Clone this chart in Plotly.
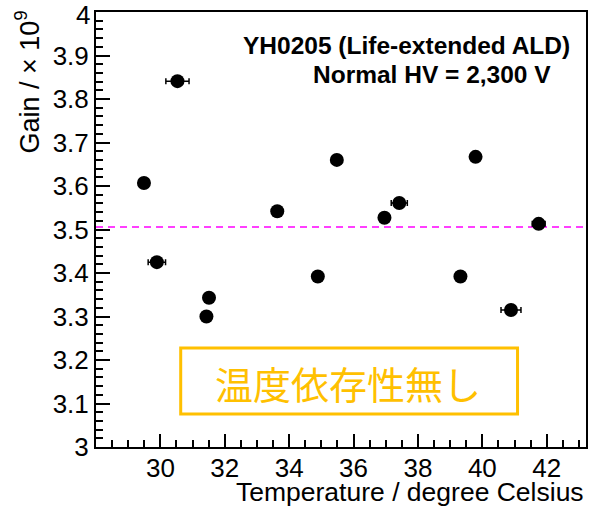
import plotly.graph_objects as go
import numpy as np

# Data
temperature = [29.49, 30.53, 29.89, 31.51, 31.43, 33.63, 34.89, 35.48,
               36.96, 37.42, 39.79, 39.32, 40.89, 41.75]
gain = [3.607, 3.841, 3.425, 3.343, 3.300, 3.542, 3.392, 3.660,
        3.527, 3.561, 3.667, 3.392, 3.315, 3.513]
temp_err = [0.10, 0.36, 0.27, 0.10, 0.10, 0.10, 0.10, 0.10,
            0.10, 0.25, 0.10, 0.10, 0.31, 0.20]
mean_gain = 3.506

y_tickvals = [3.0, 3.1, 3.2, 3.3, 3.4, 3.5, 3.6, 3.7, 3.8, 3.9, 4.0]
y_ticktext = ["3", "3.1", "3.2", "3.3", "3.4", "3.5", "3.6", "3.7", "3.8", "3.9", "4"]
x_tickvals = [30, 32, 34, 36, 38, 40, 42]
x_ticktext = ["30", "32", "34", "36", "38", "40", "42"]

x_range = [28.0, 43.22]
y_range = [3.0, 4.0]

FONT = "Liberation Sans, Arial, Helvetica, sans-serif"
ORANGE = "#FFC000"

fig = go.Figure()

fig.add_trace(go.Scatter(
    x=x_range, y=[mean_gain, mean_gain], mode="lines",
    line=dict(color="#FF00FF", width=1.5, dash="7px,5px"),
    hoverinfo="skip", showlegend=False,
))

fig.add_trace(go.Scatter(
    x=temperature, y=gain, mode="markers",
    marker=dict(color="black", size=14),
    error_x=dict(type="data", array=temp_err, visible=True,
                 color="black", thickness=1.5, width=3),
    showlegend=False,
))

fig.update_layout(
    width=592, height=506,
    margin=dict(l=96, r=4, t=12, b=59),
    paper_bgcolor="white", plot_bgcolor="white",
    font=dict(family=FONT, color="black", size=26),
    xaxis=dict(
        range=x_range, tickvals=x_tickvals, ticktext=x_ticktext,
        ticks="inside", ticklen=13, tickwidth=1.5, tickcolor="black",
        minor=dict(dtick=0.5, tick0=0, ticks="inside", ticklen=7,
                   tickwidth=1.5, tickcolor="black"),
        showline=True, linecolor="black", linewidth=2, mirror=True,
        showgrid=False, zeroline=False,
        tickfont=dict(size=26, family=FONT),
        ticklabelstandoff=-3,
    ),
    yaxis=dict(
        range=y_range, tickvals=y_tickvals[:-1], ticktext=y_ticktext[:-1],
        ticks="inside", ticklen=14, tickwidth=1.5, tickcolor="black",
        minor=dict(dtick=0.02, tick0=0, ticks="inside", ticklen=7,
                   tickwidth=1.5, tickcolor="black"),
        showline=True, linecolor="black", linewidth=2, mirror=True,
        showgrid=False, zeroline=False,
        tickfont=dict(size=26, family=FONT),
    ),
)

# Top y tick label (Plotly drops the label sitting on the range end)
fig.add_annotation(
    text=y_ticktext[-1], xref="paper", yref="y",
    x=0, y=y_tickvals[-1], xanchor="right", yanchor="middle",
    xshift=-4, yshift=-3,
    showarrow=False, font=dict(size=26, family=FONT),
)

# Axis titles
fig.add_annotation(
    text="Temperature / degree Celsius", xref="paper", yref="paper",
    x=1, y=0, xanchor="right", yanchor="middle", yshift=-45, xshift=0,
    showarrow=False, font=dict(size=26.5, family=FONT),
)
fig.add_annotation(
    text="Gain / × 10<sup>9</sup>", xref="paper", yref="paper",
    x=0, y=1, xanchor="center", yanchor="top", xshift=-69, yshift=3,
    textangle=-90, showarrow=False, font=dict(size=27, family=FONT),
)

# Info text
fig.add_annotation(
    text="<b>YH0205 (Life-extended ALD)</b>", xref="paper", yref="paper",
    x=(574 - 96) / 491.7, y=(447 - 45) / 435, xanchor="right", yanchor="middle",
    showarrow=False, font=dict(size=24.5, family=FONT),
)
fig.add_annotation(
    text="<b>Normal HV = 2,300 V</b>", xref="paper", yref="paper",
    x=(555 - 96) / 491.7, y=(447 - 75) / 435, xanchor="right", yanchor="middle",
    showarrow=False, font=dict(size=24.5, family=FONT),
)

# Japanese box
fig.add_shape(
    type="rect", xref="paper", yref="paper",
    x0=(181 - 96) / 491.7, x1=(519 - 96) / 491.7,
    y0=(447 - 414) / 435, y1=(447 - 348) / 435,
    line=dict(color=ORANGE, width=3), fillcolor="rgba(0,0,0,0)",
)
fig.add_annotation(
    text="温度依存性無し", xref="paper", yref="paper",
    x=(349 - 96) / 491.7, y=(447 - 382) / 435, xanchor="center", yanchor="middle",
    showarrow=False,
    font=dict(size=38, family="Noto Sans CJK JP", color=ORANGE),
)

fig.write_html("out.html")
